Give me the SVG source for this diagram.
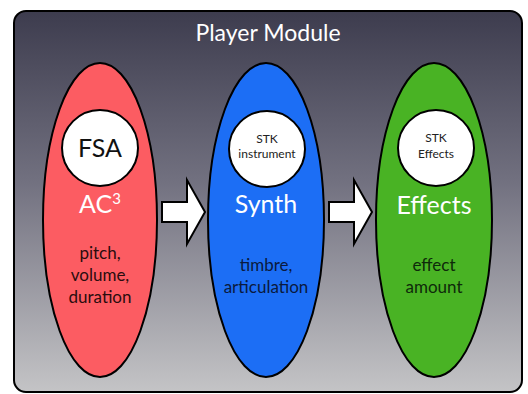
<svg xmlns="http://www.w3.org/2000/svg" width="528" height="394" viewBox="0 0 528 394">
<defs>
<linearGradient id="bg" x1="0" y1="0" x2="0" y2="1">
<stop offset="0" stop-color="#3d3c4e"/>
<stop offset="0.45" stop-color="#727180"/>
<stop offset="1" stop-color="#c4c4c6"/>
</linearGradient>
</defs>
<style>
.ell{stroke:#000;stroke-width:2}
.circ{fill:#fff;stroke:#000;stroke-width:2}
.arrow{fill:#fff;stroke:#000;stroke-width:2;stroke-linejoin:miter}
text{font-family:Lato,"Liberation Sans",sans-serif;text-anchor:middle}
.title{fill:#fff;font-size:23px}
.big{fill:#fff;font-size:25px}
.inner{fill:#111;font-size:25px}
.small{fill:#222;font-size:12px}
.desc{font-size:17px}
</style>
<rect x="14" y="11" width="508" height="381" rx="12" ry="12" fill="url(#bg)" stroke="#000" stroke-width="2"/>
<text class="title" x="268" y="41">Player Module</text>
<g id="connectors">
<polygon class="arrow" points="162,202 187,202 187,180 205,212 187,244 187,222 162,222"/>
<polygon class="arrow" points="329,202 354,202 354,180 372,212 354,244 354,222 329,222"/>
</g>
<g id="ac3">
<ellipse class="ell" cx="100" cy="220" rx="57" ry="157" fill="#fc5c62"/>
<circle class="circ" cx="100" cy="148" r="38"/>
<text class="inner" x="100" y="157">FSA</text>
<text class="big" x="100" y="213">AC<tspan font-size="15" dy="-9">3</tspan></text>
<text class="desc" fill="#2a0c0e" x="100" y="259">pitch,</text>
<text class="desc" fill="#2a0c0e" x="100" y="281">volume,</text>
<text class="desc" fill="#2a0c0e" x="100" y="303">duration</text>
</g>
<g id="synth">
<ellipse class="ell" cx="266" cy="220" rx="58" ry="157" fill="#1c6ef5"/>
<circle class="circ" cx="267" cy="149" r="38"/>
<text class="small" x="267" y="143">STK</text>
<text class="small" x="267" y="158">instrument</text>
<text class="big" x="266" y="213">Synth</text>
<text class="desc" fill="#0a1a3e" x="266" y="271">timbre,</text>
<text class="desc" fill="#0a1a3e" x="266" y="293">articulation</text>
</g>
<g id="effects">
<ellipse class="ell" cx="434" cy="220" rx="58" ry="157" fill="#49b324"/>
<circle class="circ" cx="436" cy="148" r="38"/>
<text class="small" x="436" y="142">STK</text>
<text class="small" x="436" y="158">Effects</text>
<text class="big" x="434" y="214">Effects</text>
<text class="desc" fill="#0e2a0a" x="434" y="271">effect</text>
<text class="desc" fill="#0e2a0a" x="434" y="293">amount</text>
</g>
</svg>
